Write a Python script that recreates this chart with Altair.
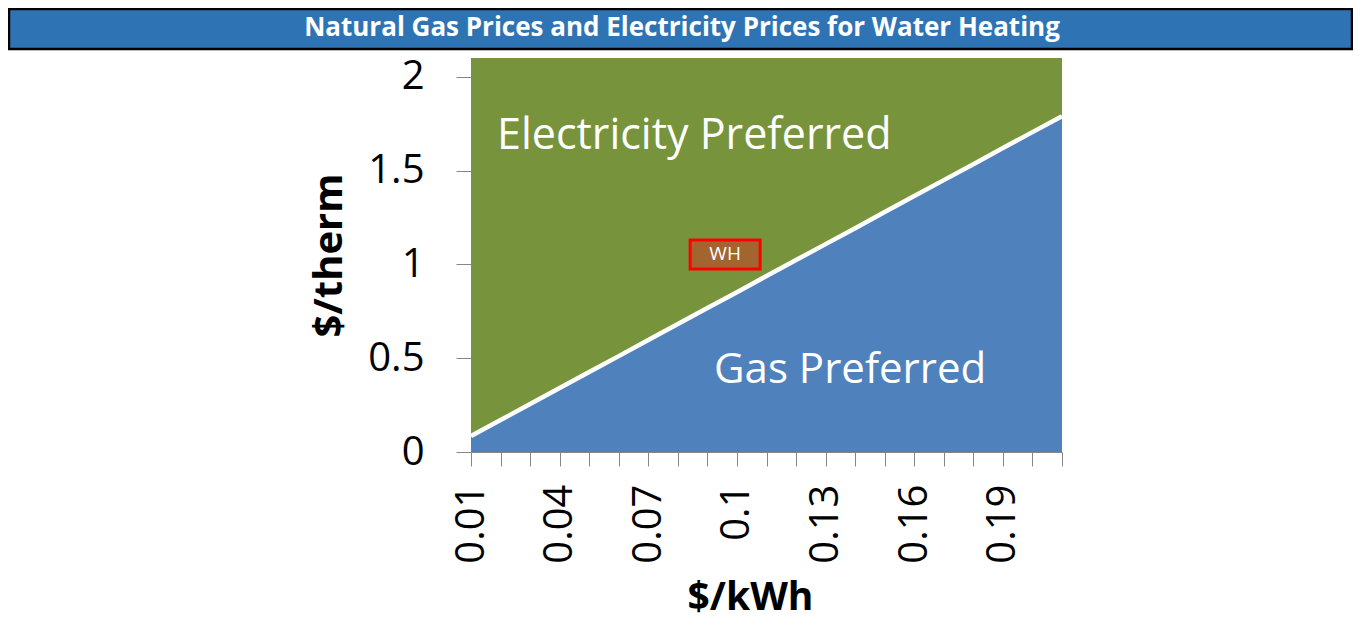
import altair as alt
import pandas as pd

# ---- data ----
elec_price = [0.01, 0.02, 0.03, 0.04, 0.05, 0.06, 0.07, 0.08, 0.09, 0.10, 0.11,
              0.12, 0.13, 0.14, 0.15, 0.16, 0.17, 0.18, 0.19, 0.20, 0.21]
breakeven_gas = [0.085, 0.170, 0.256, 0.341, 0.426, 0.511, 0.597, 0.682, 0.767, 0.852, 0.938,
                 1.023, 1.108, 1.193, 1.279, 1.364, 1.449, 1.534, 1.620, 1.705, 1.790]
y_top = 2.1
labelled_x = [0.01, 0.04, 0.07, 0.10, 0.13, 0.16, 0.19]
y_ticks = [0, 0.5, 1, 1.5, 2]

wh_point = {"x": [0.096], "y": [1.053], "label": ["WH"]}
region_text = ["Electricity Preferred", "Gas Preferred"]
region_x = [0.0188, 0.1383]
region_y = [1.617, 0.367]

title_text = "Natural Gas Prices and Electricity Prices for Water Heating"

FONT = "Open Sans"
GREEN = "#77933C"
BLUE = "#4F81BD"
BROWN = "#A26530"
GRAY = "#868686"

W, H = 591, 394
PAD_L, PAD_T, PAD_R, PAD_B = 463, 50, 291, 171

df = pd.DataFrame({"x": elec_price, "gas": breakeven_gas, "top": [y_top] * len(elec_price)})

xscale = alt.Scale(domain=[0.01, 0.21], nice=False, zero=False)
yscale = alt.Scale(domain=[0, y_top], nice=False, zero=True)

label_cond = " || ".join(f"abs(datum.value - {v}) < 0.0001" for v in labelled_x)

x_axis = alt.Axis(
    values=elec_price, tickCount=50, format=".2~f",
    labelExpr=f"({label_cond}) ? datum.label : ''",
    labelAngle=270, labelAlign="right", labelBaseline="middle", labelPadding=18,
    labelFontSize=40, labelFont=FONT, labelColor="black", labelOverlap=False,
    tickSize=14, tickColor=GRAY, domainColor=GRAY, domainWidth=1, grid=False,
    title="$/kWh", titleFont=FONT, titleFontSize=39, titleFontWeight="bold",
    titleColor="black", titlePadding=15, titleX=279, titleAlign="center",
)
y_axis = alt.Axis(
    values=y_ticks, format=".1~f", labelPadding=32, labelFontSize=40, labelFont=FONT,
    labelColor="black", tickSize=15, tickColor=GRAY, domain=False, grid=False,
    title="$/therm", titleFont=FONT, titleFontSize=40, titleFontWeight="bold",
    titleColor="black", titlePadding=18,
)

base = alt.Chart(df)

green = base.mark_area(color=GREEN, opacity=1).encode(
    x=alt.X("x:Q", scale=xscale, axis=x_axis),
    y=alt.Y("top:Q", scale=yscale, axis=y_axis),
    y2=alt.datum(0),
)
blue = base.mark_area(color=BLUE, opacity=1).encode(
    x=alt.X("x:Q", scale=xscale),
    y=alt.Y("gas:Q", scale=yscale),
)
line = base.mark_line(color="white", strokeWidth=4.5).encode(
    x=alt.X("x:Q", scale=xscale),
    y=alt.Y("gas:Q", scale=yscale),
)

wh_df = pd.DataFrame(wh_point)
wh_box = alt.Chart(wh_df).mark_point(
    shape="M-1,-0.414L1,-0.414L1,0.414L-1,0.414Z", size=4900,
    filled=True, fill=BROWN, stroke="#FF0000", strokeWidth=3, opacity=1,
).encode(x=alt.X("x:Q", scale=xscale), y=alt.Y("y:Q", scale=yscale))
wh_text = alt.Chart(wh_df).mark_text(
    font=FONT, fontSize=19, color="white", align="center", baseline="middle"
).encode(x=alt.X("x:Q", scale=xscale), y=alt.Y("y:Q", scale=yscale), text="label:N")

reg_df = pd.DataFrame({"x": region_x, "y": region_y, "t": region_text})
reg1 = alt.Chart(reg_df.iloc[[0]]).mark_text(
    font=FONT, fontSize=43, color="white", align="left", baseline="alphabetic"
).encode(x=alt.X("x:Q", scale=xscale), y=alt.Y("y:Q", scale=yscale), text="t:N")
reg2 = alt.Chart(reg_df.iloc[[1]]).mark_text(
    font=FONT, fontSize=42, color="white", align="center", baseline="alphabetic"
).encode(x=alt.X("x:Q", scale=xscale), y=alt.Y("y:Q", scale=yscale), text="t:N")

# title banner (decoration, in pixel space)
banner_df = pd.DataFrame({"t": [title_text]})
banner = alt.Chart(banner_df).mark_rect(
    fill="#2E74B5", stroke="black", strokeWidth=2.5, clip=False
).encode(
    x=alt.value(-PAD_L + 1), x2=alt.value(W + PAD_R - 1),
    y=alt.value(-PAD_T + 1), y2=alt.value(-9),
)
banner_text = alt.Chart(banner_df).mark_text(
    font=FONT, fontSize=26, fontWeight="bold", color="white",
    align="center", baseline="middle", clip=False
).encode(x=alt.value(211), y=alt.value(-30), text="t:N")

chart = alt.layer(green, blue, line, wh_box, wh_text, reg1, reg2, banner, banner_text).properties(
    width=W, height=H,
    autosize=alt.AutoSizeParams(type="none"),
    padding={"left": PAD_L, "top": PAD_T, "right": PAD_R, "bottom": PAD_B},
    background="white",
).configure_view(stroke=None)

chart.save("out.html", embed_options={"renderer": "svg", "actions": False})
